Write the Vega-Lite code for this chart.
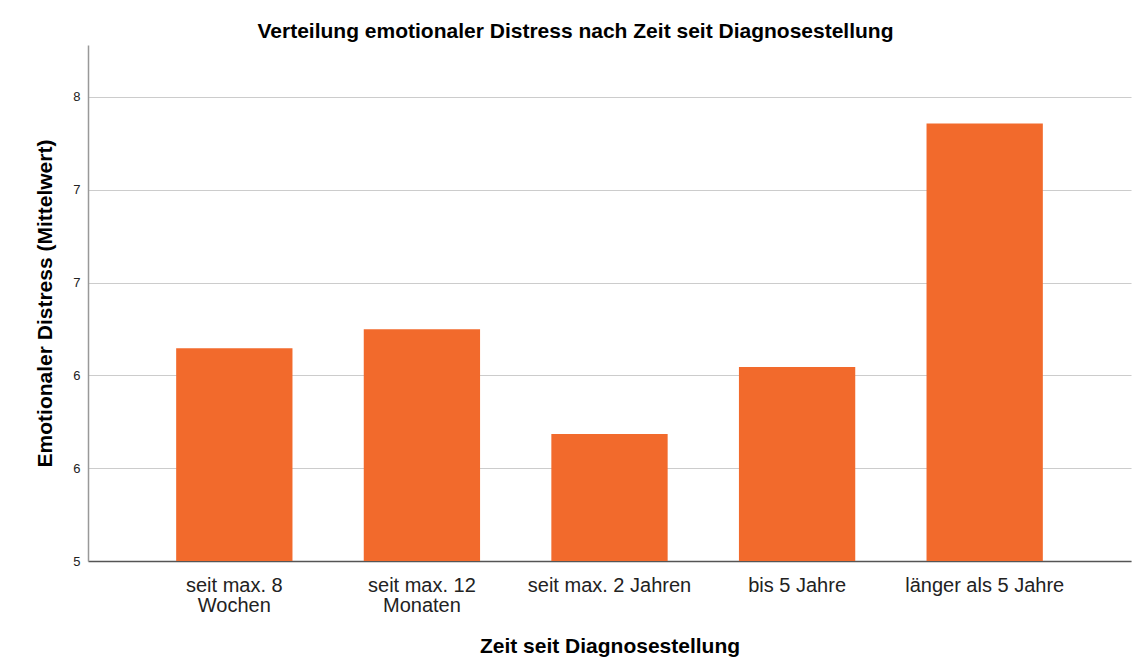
{
  "$schema": "https://vega.github.io/schema/vega-lite/v6.json",
  "width": 1043,
  "height": 516,
  "autosize": {"type": "none"},
  "padding": {"left": 88, "top": 45, "right": 10, "bottom": 110},
  "background": "white",
  "title": {
    "text": "Verteilung emotionaler Distress nach Zeit seit Diagnosestellung",
    "font": "Liberation Sans",
    "fontSize": 21,
    "fontWeight": "bold",
    "color": "#000000",
    "anchor": "middle",
    "dx": -34,
    "offset": 3
  },
  "data": {
    "values": [
      {"zeit": "seit max. 8 Wochen", "distress": 6.146},
      {"zeit": "seit max. 12 Monaten", "distress": 6.248},
      {"zeit": "seit max. 2 Jahren", "distress": 5.684},
      {"zeit": "bis 5 Jahre", "distress": 6.045},
      {"zeit": "länger als 5 Jahre", "distress": 7.357}
    ]
  },
  "mark": {"type": "bar", "color": "#F26A2C", "clip": true},
  "encoding": {
    "x": {
      "field": "zeit",
      "type": "nominal",
      "sort": null,
      "scale": {"paddingInner": 0.38, "paddingOuter": 0.47},
      "axis": {
        "title": "Zeit seit Diagnosestellung",
        "titleFont": "Liberation Sans",
        "titleFontSize": 21,
        "titleFontWeight": "bold",
        "titleColor": "#000000",
        "titlePadding": 20,
        "labelFont": "Liberation Sans",
        "labelFontSize": 20,
        "labelColor": "#222222",
        "labelAngle": 0,
        "labelPadding": 14,
        "labelLineHeight": 20,
        "labelExpr": "datum.label == 'seit max. 8 Wochen' ? ['seit max. 8', 'Wochen'] : datum.label == 'seit max. 12 Monaten' ? ['seit max. 12', 'Monaten'] : datum.label",
        "ticks": false,
        "domainColor": "#555555",
        "domainWidth": 1.5,
        "grid": false
      }
    },
    "y": {
      "field": "distress",
      "type": "quantitative",
      "scale": {"domain": [5, 7.78], "zero": false, "nice": false},
      "axis": {
        "title": "Emotionaler Distress (Mittelwert)",
        "titleFont": "Liberation Sans",
        "titleFontSize": 21,
        "titleFontWeight": "bold",
        "titleColor": "#000000",
        "titlePadding": 17,
        "values": [5, 5.5, 6, 6.5, 7, 7.5],
        "format": ".0f",
        "labelFont": "Liberation Sans",
        "labelFontSize": 13,
        "labelColor": "#222222",
        "labelPadding": 8,
        "ticks": false,
        "domainColor": "#999999",
        "domainWidth": 1.5,
        "grid": true,
        "gridColor": "#cccccc",
        "gridWidth": 1.2
      }
    }
  },
  "config": {
    "view": {"stroke": null}
  }
}
